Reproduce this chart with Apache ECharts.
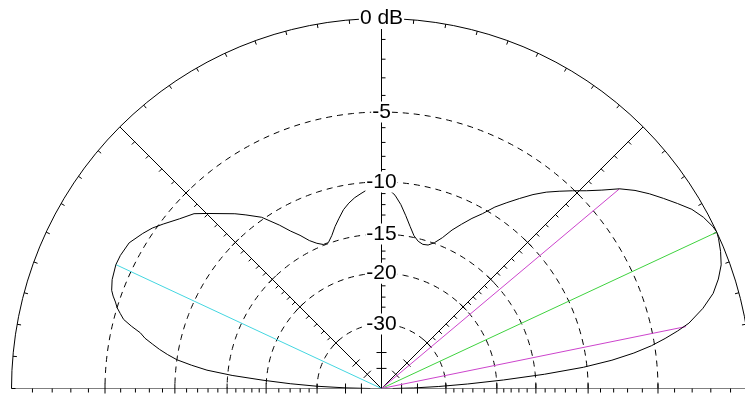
<!DOCTYPE html>
<html>
<head>
<meta charset="utf-8">
<script src="https://cdn.jsdelivr.net/npm/echarts@6/dist/echarts.min.js"></script>
<style>
  html, body { margin: 0; padding: 0; background: #fff; }
  #chart { width: 745px; height: 395px; }
</style>
</head>
<body>
<div id="chart"></div>
<script>
// Elevation pattern plotted on the ARRL log scale:
// the radius shrinks by a factor 0.89 for every 2 dB below the maximum.

// Elevation angle (deg, 0 = right horizon, 180 = left horizon)
const patternAngles = [
  0, 1, 2, 3, 4, 5, 6, 7, 8, 9, 10, 11, 12, 14, 16, 18, 20, 22, 24, 25, 26, 28,
  30, 32, 34, 36, 38, 40, 42, 44, 46, 48, 50, 52, 54, 56, 58, 60, 62, 64, 66, 68,
  70, 72, 74, 76, 78, 80, 82, 84, 86, 88, 90, 92, 94, 96, 98, 100, 102, 104, 106,
  108, 110, 112, 114, 116, 118, 120, 122, 125, 128, 130, 135, 137, 140, 143, 145,
  147, 150, 153, 155, 158, 160, 161, 162, 163, 164, 165, 166, 167, 168, 169, 170,
  171, 172, 173, 174, 175, 176, 177, 178, 179, 180
];
// Relative gain (dB) at each elevation angle
const patternDb = [
  -60, -42, -32, -25, -19, -14, -10.3, -8.0, -6.4, -5.2, -4.3, -3.5, -2.8, -1.9, -1.2, -0.75, -0.4, -0.2, -0.05, 0, -0.05, -0.25,
  -0.55, -1.0, -1.45, -1.9, -2.4, -3.0, -3.8, -4.5, -5.1, -5.7, -6.3, -7.0, -7.8, -8.6, -9.4, -10.4, -11.2, -12.1, -13.0, -14.1,
  -14.9, -15.4, -15.5, -15.3, -14.8, -13.9, -12.9, -11.9, -11.1, -10.6, -10.3, -10.4, -10.6, -10.9, -11.2, -11.6, -12.1, -12.8, -13.5,
  -14.3, -14.9, -14.9, -14.5, -13.9, -13.0, -12.2, -11.2, -9.8, -8.9, -8.3, -6.9, -6.3, -5.8, -5.2, -4.8,
  -4.5, -4.1, -4.0, -4.0, -4.15, -4.35, -4.55, -4.8, -5.0, -5.3, -5.6, -6.2, -6.9, -7.3, -7.9, -8.5,
  -9.2, -10, -11.3, -12.8, -15.5, -19.5, -24, -30, -40, -60
];

// Dashed range rings and their labels
const ringDb = [-5, -10, -15, -20, -30];
const ringLabels = ['-5', '-10', '-15', '-20', '-30'];
const outerLabel = '0 dB';

// Solid radial lines and the dB ticks drawn along them
const radialAngles = [0, 45, 90, 135, 180];
const minorTickDb = [-1, -2, -3, -4, -6, -7, -8, -9, -11, -12, -13, -14, -16, -17, -18, -19, -22, -24, -26, -28];
const majorTickDb = [-5, -10, -15, -20, -30, -40, -50];

// Marker lines: main lobe peak, half-power points, rear lobe
const peakAngle = 25, peakDb = 0;
const halfPowerAngles = [11.5, 40], halfPowerDb = -3;
const rearAngle = 155, rearDb = -4.0;

function arrl(db) { return Math.pow(0.89, -db / 2); }

const chart = echarts.init(document.getElementById('chart'), null, { renderer: 'canvas' });

const black = '#000';
const lineSeries = (data, color, extra) => Object.assign({
  type: 'line',
  coordinateSystem: 'polar',
  data: data,
  symbol: 'none',
  silent: true,
  animation: false,
  lineStyle: { color: color, width: 1 }
}, extra || {});

const series = [];

// range rings
ringDb.forEach(db => {
  const pts = [];
  for (let a = 0; a <= 180; a += 1) pts.push([arrl(db), a]);
  series.push(lineSeries(pts, black, { lineStyle: { color: black, width: 1, type: [6, 5] }, z: 2 }));
});

// radial lines out of the origin
const radial = [];
radialAngles.forEach((a, i) => {
  if (i > 0) radial.push([0, a]);
  radial.push([1, a]);
  if (i < radialAngles.length - 1) radial.push([0, a]);
});
series.push(lineSeries(radial, black, { z: 3 }));

// dB ticks along the radial lines
const tickData = [];
radialAngles.forEach(a => {
  minorTickDb.forEach(db => tickData.push([arrl(db), a, 4, 0]));
  majorTickDb.forEach(db => tickData.push([arrl(db), a, 5, 1]));
});
series.push({
  type: 'custom',
  coordinateSystem: 'polar',
  silent: true,
  animation: false,
  z: 3,
  data: tickData,
  renderItem: function (params, api) {
    const a = api.value(1), len = api.value(2), both = api.value(3);
    const p = api.coord([api.value(0), a]);
    const rad = a * Math.PI / 180;
    let nx = Math.sin(rad), ny = Math.cos(rad);
    if (a > 90) { nx = -nx; ny = -ny; }
    const back = both ? len : 0;
    return {
      type: 'line',
      shape: { x1: p[0] - back * nx, y1: p[1] - back * ny, x2: p[0] + len * nx, y2: p[1] + len * ny },
      style: { stroke: black, lineWidth: 1 }
    };
  }
});

// radiation pattern
series.push(lineSeries(patternAngles.map((a, i) => [arrl(patternDb[i]), a]), black, { z: 5 }));

// marker lines
series.push(lineSeries([[0, rearAngle], [arrl(rearDb), rearAngle]], '#44d6e0', { z: 4 }));
series.push(lineSeries([[0, peakAngle], [arrl(peakDb), peakAngle]], '#3fd23f', { z: 4 }));
halfPowerAngles.forEach(a => {
  series.push(lineSeries([[0, a], [arrl(halfPowerDb), a]], '#cc44cc', { z: 4 }));
});

// ring labels on the vertical axis
const labelTexts = [outerLabel].concat(ringLabels);
const labelData = [[arrl(0), 90]].concat(ringDb.map(db => [arrl(db), 90]));
series.push({
  type: 'custom',
  coordinateSystem: 'polar',
  silent: true,
  animation: false,
  z: 10,
  data: labelData,
  renderItem: function (params, api) {
    const p = api.coord([api.value(0), api.value(1)]);
    return {
      type: 'text',
      x: p[0],
      y: p[1],
      style: {
        text: labelTexts[params.dataIndex],
        fill: black,
        font: '21px "Liberation Sans", Arial, sans-serif',
        align: 'center',
        verticalAlign: 'middle',
        backgroundColor: '#fff',
        padding: [0, 1]
      }
    };
  }
});

chart.setOption({
  animation: false,
  backgroundColor: '#fff',
  polar: { center: [381.5, 388.5], radius: 370 },
  angleAxis: {
    type: 'value',
    min: 0,
    max: 180,
    interval: 5,
    startAngle: 0,
    endAngle: 180,
    clockwise: false,
    axisLine: { show: true, lineStyle: { color: black, width: 1 } },
    axisTick: { show: true, inside: true, length: 4, lineStyle: { color: black, width: 1 } },
    axisLabel: { show: false },
    splitLine: { show: false }
  },
  radiusAxis: {
    type: 'value',
    min: 0,
    max: 1,
    axisLine: { show: false },
    axisTick: { show: false },
    axisLabel: { show: false },
    splitLine: { show: false }
  },
  series: series
});
</script>
</body>
</html>
